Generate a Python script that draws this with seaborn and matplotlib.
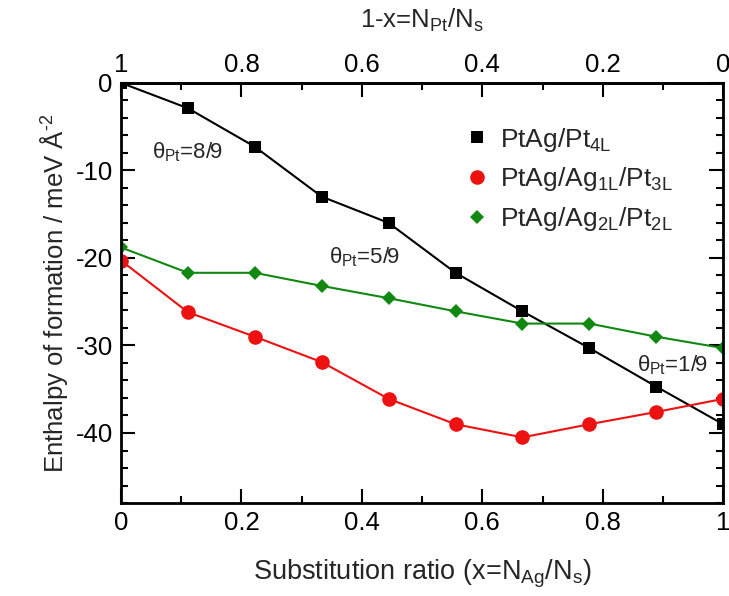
import numpy as np
import pandas as pd
import matplotlib
matplotlib.use("Agg")
import matplotlib.pyplot as plt
import seaborn as sns
from matplotlib.lines import Line2D
from matplotlib.ticker import MultipleLocator

# data
x_ratio = [0, 1/9, 2/9, 3/9, 4/9, 5/9, 6/9, 7/9, 8/9, 1]
pt4l = [0, -2.9, -7.3, -13.0, -16.0, -21.7, -26.1, -30.3, -34.7, -39.0]
ag1l_pt3l = [-20.3, -26.2, -29.0, -31.9, -36.1, -39.0, -40.5, -39.0, -37.6, -36.1]
ag2l_pt2l = [-18.8, -21.7, -21.7, -23.2, -24.6, -26.1, -27.5, -27.5, -29.0, -30.3]
labels = [r"PtAg/Pt$_{4L}$", r"PtAg/Ag$_{1L}$/Pt$_{3L}$", r"PtAg/Ag$_{2L}$/Pt$_{2L}$"]
bottom_ticks = [0, 0.2, 0.4, 0.6, 0.8, 1]
bottom_labels = ["0", "0.2", "0.4", "0.6", "0.8", "1"]
top_ticks = [1, 0.8, 0.6, 0.4, 0.2, 0]
top_labels = ["1", "0.8", "0.6", "0.4", "0.2", "0"]
y_ticks = [0, -10, -20, -30, -40]

sns.set_style("ticks")
plt.rcParams['font.family'] = ['Liberation Sans', 'DejaVu Sans']
plt.rcParams['mathtext.fontset'] = 'custom'
plt.rcParams['mathtext.rm'] = 'Liberation Sans'
plt.rcParams['mathtext.it'] = 'Liberation Sans'
plt.rcParams['axes.unicode_minus'] = False

fig = plt.figure(figsize=(7.29, 5.96), dpi=100)
ax = fig.add_axes([0.166, 0.156, 0.826, 0.705])

df = pd.DataFrame({"x": x_ratio, labels[0]: pt4l, labels[1]: ag1l_pt3l, labels[2]: ag2l_pt2l})
styles = [("black", "s", 8.5), ("#ee1111", "o", 10.5), ("#118811", "D", 7)]
handles = []
for lab, (col, mk, ms) in zip(labels, styles):
    sns.lineplot(data=df, x="x", y=lab, ax=ax, color=col, marker=mk, markersize=ms,
                 markeredgewidth=0, linewidth=1.5)
    handles.append(Line2D([], [], color=col, marker=mk, markersize=ms, linestyle="none",
                          markeredgewidth=0, label=lab))

ax.set_xlim(0, 1)
ax.set_ylim(-48, 0)
ax.set_xticks(bottom_ticks)
ax.set_xticklabels(bottom_labels)
ax.set_yticks(y_ticks)
ax.set_yticklabels([str(v) for v in y_ticks])
ax.xaxis.set_minor_locator(MultipleLocator(0.1))
ax.yaxis.set_minor_locator(MultipleLocator(2))
ax.tick_params(which="both", direction="in", right=True, width=1.5, labelsize=18.5, colors="black")
ax.tick_params(which="major", length=10, pad=6)
ax.tick_params(which="minor", length=5)
for s in ax.spines.values():
    s.set_linewidth(2)
    s.set_color("black")

ax.set_xlabel(r"Substitution ratio (x=N$_{Ag}$/N$_s$)", fontsize=19.5, labelpad=16)
ax.set_ylabel(r"Enthalpy of formation / meV $\mathrm{\AA}^{\text{-}2}$", fontsize=18.5, labelpad=4)

top = ax.secondary_xaxis("top", functions=(lambda v: 1 - v, lambda v: 1 - v))
top.set_xticks(top_ticks)
top.set_xticklabels(top_labels)
top.xaxis.set_minor_locator(MultipleLocator(0.1))
top.tick_params(which="both", direction="in", width=1.5, labelsize=18.5, colors="black")
top.tick_params(which="major", length=10, pad=4)
top.tick_params(which="minor", length=5)
top.spines["top"].set_linewidth(2)
top.set_xlabel(r"1-x=N$_{Pt}$/N$_s$", fontsize=18.5, labelpad=18)

ax.text(0.052, -8.6, r"$\theta_{Pt}$=8/9", fontsize=16)
ax.text(0.345, -20.6, r"$\theta_{Pt}$=5/9", fontsize=16)
ax.text(0.857, -33.0, r"$\theta_{Pt}$=1/9", fontsize=16)

ax.legend(handles=handles, loc="upper left", bbox_to_anchor=(0.525, 0.955), frameon=False,
          fontsize=19, handletextpad=0.3, labelspacing=0.45, handlelength=1.2)

fig.savefig("out.png", dpi=100)
